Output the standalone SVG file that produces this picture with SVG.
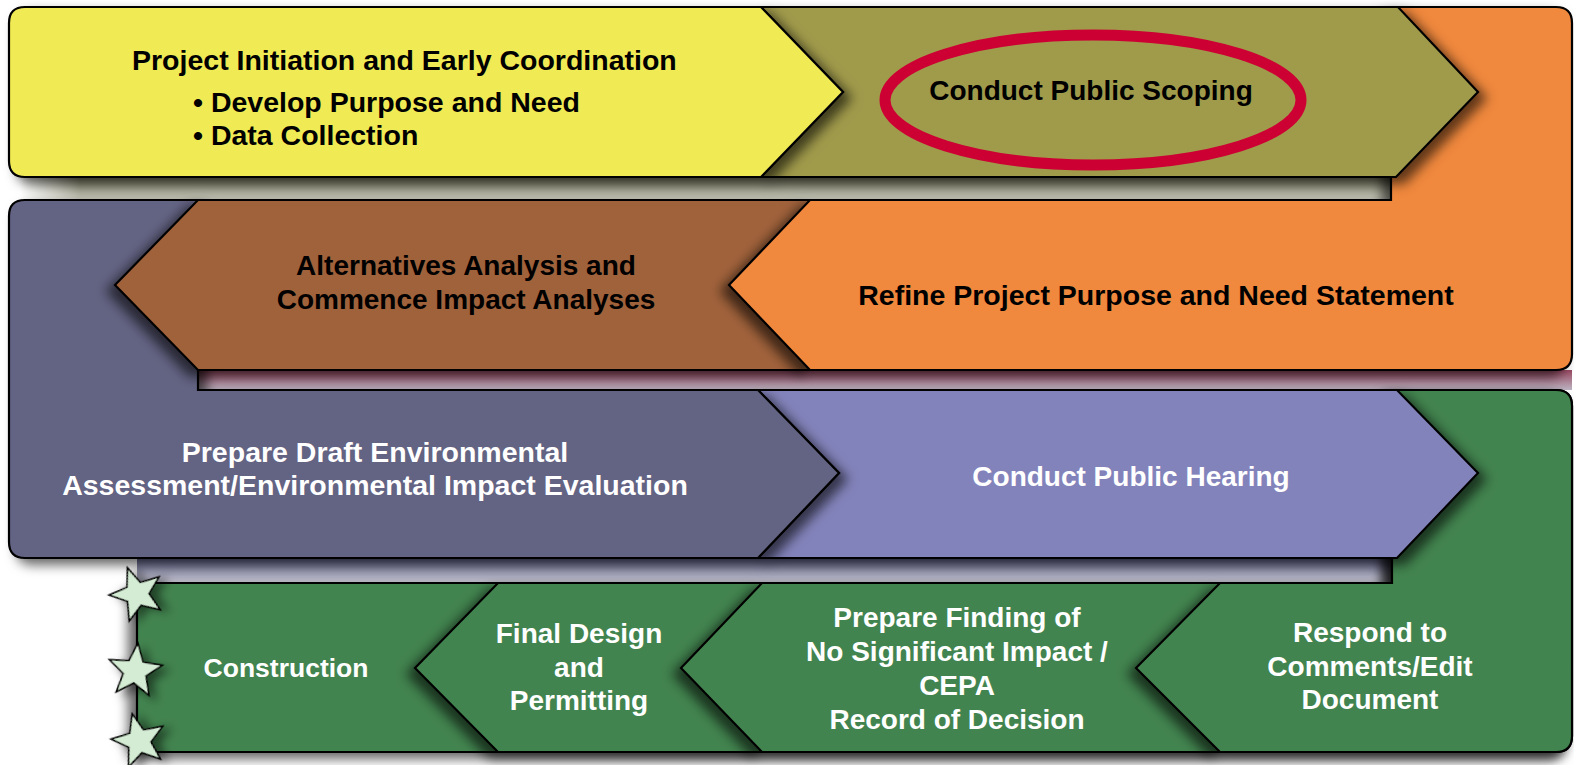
<svg xmlns="http://www.w3.org/2000/svg" width="1574" height="765" viewBox="0 0 1574 765">
<style>
.o{stroke:#000;stroke-width:2.2;stroke-linejoin:miter}
.t{font-family:"Liberation Sans",Arial,sans-serif;font-weight:bold;font-size:28px}
.k{fill:#000}
.w{fill:#fff}
.m{text-anchor:middle}
.star{fill:#d4ecd4;stroke:#000;stroke-width:1.6}
</style>
<defs>
<filter id="shR" x="-15%" y="-25%" width="130%" height="160%">
<feDropShadow dx="8" dy="6" stdDeviation="6" flood-color="#000" flood-opacity="0.6"/>
</filter>
<filter id="shL" x="-15%" y="-25%" width="130%" height="160%">
<feDropShadow dx="-8" dy="6" stdDeviation="6" flood-color="#000" flood-opacity="0.6"/>
</filter>
<filter id="shS" x="-50%" y="-50%" width="200%" height="200%">
<feDropShadow dx="7" dy="4" stdDeviation="5" flood-color="#000" flood-opacity="0.5"/>
</filter>
<linearGradient id="g1" x1="0" y1="0" x2="0" y2="1">
<stop offset="0" stop-color="#76765e"/><stop offset="1" stop-color="#c8c8bc"/>
</linearGradient>
<linearGradient id="g1f" x1="0" y1="0" x2="1" y2="0">
<stop offset="0" stop-color="#fff" stop-opacity="1"/><stop offset="1" stop-color="#fff" stop-opacity="0"/>
</linearGradient>
<linearGradient id="g2" x1="0" y1="0" x2="0" y2="1">
<stop offset="0" stop-color="#9a4862"/><stop offset="1" stop-color="#bdb4c2"/>
</linearGradient>
<linearGradient id="g3" x1="0" y1="0" x2="0" y2="1">
<stop offset="0" stop-color="#5e5e86"/><stop offset="1" stop-color="#c6c6d2"/>
</linearGradient>
<polygon id="starShape" points="0,-28 7.05,-9.71 26.63,-8.65 11.41,3.71 16.46,22.65 0,12 -16.46,22.65 -11.41,3.71 -26.63,-8.65 -7.05,-9.71"/>
</defs>

<g id="bands">
<rect x="20" y="177" width="1371" height="23" fill="url(#g1)"/>
<rect x="20" y="177" width="60" height="23" fill="url(#g1f)"/>
<rect x="198" y="370" width="1374" height="20" fill="url(#g2)"/>
<rect x="137" y="558" width="1255" height="25" fill="url(#g3)"/>
</g>

<g id="connectors"></g>

<g id="construction">
<path class="o" fill="#42844f" filter="url(#shL)" d="M1392,390 H1556 Q1572,390 1572,406 V736 Q1572,752 1556,752 H137 V583 H1392 Z"/>
<text class="t w m" x="286" y="677" style="font-size:26.5px">Construction</text>
</g>

<g id="final-design">
<path class="o" fill="#42844f" filter="url(#shL)" d="M415,668 L498,583 H762 V752 H498 Z"/>
<text class="t w m" x="579" y="643">Final Design</text>
<text class="t w m" x="579" y="677">and</text>
<text class="t w m" x="579" y="710">Permitting</text>
</g>

<g id="prepare-finding">
<path class="o" fill="#42844f" filter="url(#shL)" d="M681,668 L762,583 H1220 V752 H762 Z"/>
<text class="t w m" x="957" y="627">Prepare Finding of</text>
<text class="t w m" x="957" y="661">No Significant Impact /</text>
<text class="t w m" x="957" y="695">CEPA</text>
<text class="t w m" x="957" y="729">Record of Decision</text>
</g>

<g id="respond">
<path class="o" fill="#42844f" filter="url(#shL)" d="M1136,668 L1220,583 H1392 V390 H1556 Q1572,390 1572,406 V736 Q1572,752 1556,752 H1220 Z"/>
<text class="t w m" x="1370" y="642">Respond to</text>
<text class="t w m" x="1370" y="676">Comments/Edit</text>
<text class="t w m" x="1370" y="709">Document</text>
</g>

<g id="stars">
<use href="#starShape" class="star" filter="url(#shS)" transform="translate(137,594) rotate(-20)"/>
<use href="#starShape" class="star" filter="url(#shS)" transform="translate(135,671) rotate(6)"/>
<use href="#starShape" class="star" filter="url(#shS)" transform="translate(139,741) rotate(-14)"/>
</g>

<g id="public-hearing">
<path class="o" fill="#8383bb" filter="url(#shR)" d="M758,390 H1397 L1478,473 L1397,558 H758 L839,473 Z"/>
<text class="t w m" x="1131" y="486">Conduct Public Hearing</text>
</g>

<g id="draft-ea">
<path class="o" fill="#636383" filter="url(#shR)" d="M25,200 H198 V390 H758 L839,473 L758,558 H25 Q9,558 9,542 V216 Q9,200 25,200 Z"/>
<text class="t w m" x="375" y="462" style="font-size:28.5px">Prepare Draft Environmental</text>
<text class="t w m" x="375" y="495" style="font-size:28.5px">Assessment/Environmental Impact Evaluation</text>
</g>

<g id="alternatives">
<path class="o" fill="#a0623a" filter="url(#shL)" d="M198,200 H810 V370 H198 L115,285 Z"/>
<text class="t k m" x="466" y="275">Alternatives Analysis and</text>
<text class="t k m" x="466" y="309">Commence Impact Analyses</text>
</g>

<g id="refine">
<path class="o" fill="#f0883e" filter="url(#shL)" d="M1391,7 H1556 Q1572,7 1572,23 V354 Q1572,370 1556,370 H810 L729,285 L810,200 H1391 Z"/>
<text class="t k m" x="1156" y="305" style="font-size:28.5px">Refine Project Purpose and Need Statement</text>
</g>

<g id="scoping">
<path class="o" fill="#a09a4c" filter="url(#shR)" d="M761,7 H1398 L1478,92 L1396,177 H761 L843,92 Z"/>
<ellipse cx="1093" cy="100" rx="208" ry="65" fill="none" stroke="#cc0033" stroke-width="11"/>
<text class="t k m" x="1091" y="100">Conduct Public Scoping</text>
</g>

<g id="initiation">
<path class="o" fill="#f0ea55" filter="url(#shR)" d="M25,7 H761 L843,92 L761,177 H25 Q9,177 9,161 V23 Q9,7 25,7 Z"/>
<text class="t k" x="132" y="70" style="font-size:28.5px">Project Initiation and Early Coordination</text>
<text class="t k" x="193" y="112" style="font-size:28.5px">• Develop Purpose and Need</text>
<text class="t k" x="193" y="145" style="font-size:28.5px">• Data Collection</text>
</g>
</svg>
